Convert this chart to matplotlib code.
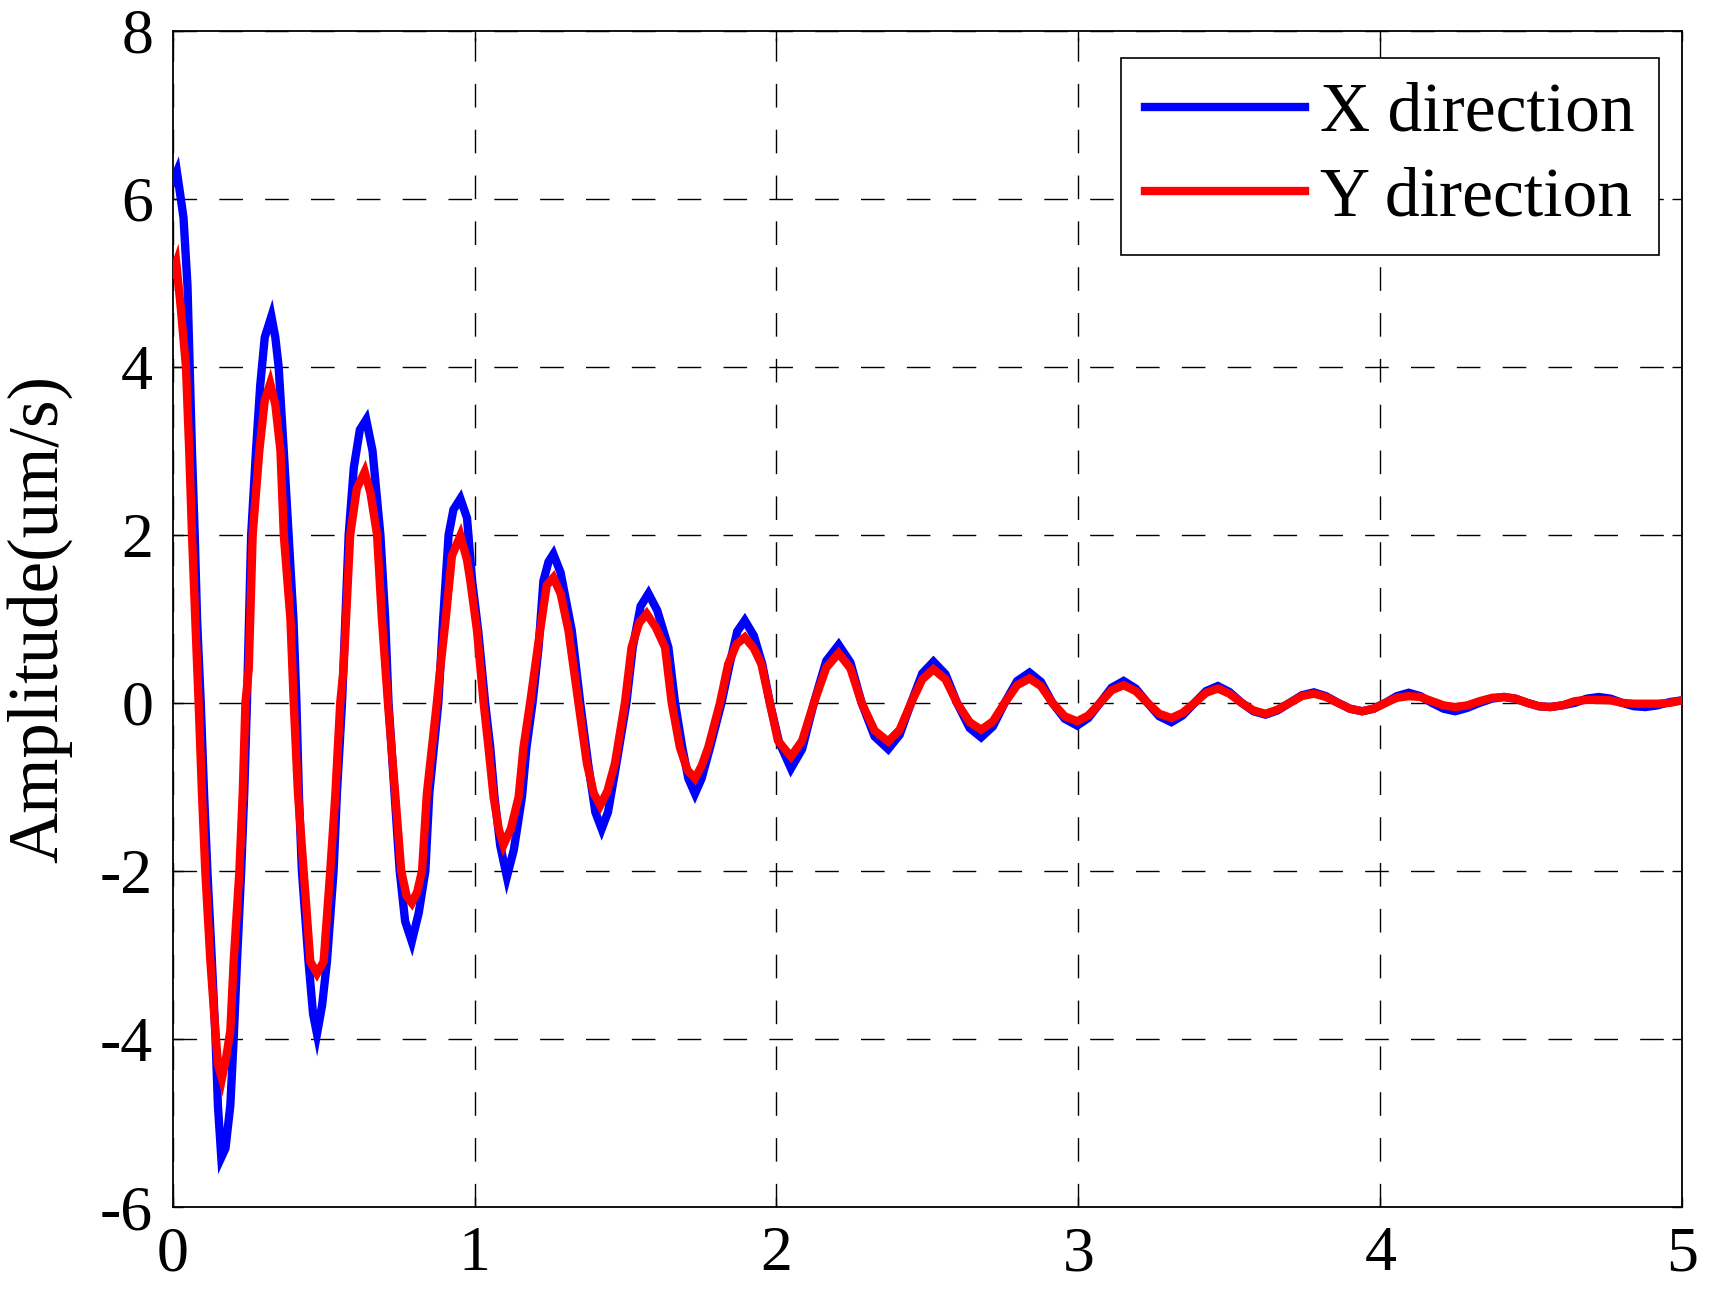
import matplotlib
matplotlib.use("Agg")
import matplotlib.pyplot as plt

plt.rcParams['font.family'] = ['Liberation Serif', 'DejaVu Serif']
plt.rcParams['axes.unicode_minus'] = False

# X direction (blue): time [s], amplitude [um/s]
t_x = [0.000, 0.014, 0.025, 0.036, 0.049, 0.064, 0.073, 0.081, 0.093, 0.104,
       0.115, 0.130, 0.142, 0.150, 0.161, 0.175, 0.191, 0.202, 0.213, 0.227,
       0.237, 0.246, 0.253, 0.260, 0.276, 0.290, 0.305, 0.327, 0.340, 0.351,
       0.368, 0.384, 0.400, 0.410, 0.418, 0.428, 0.450, 0.465, 0.478, 0.495,
       0.511, 0.533, 0.544, 0.561, 0.572, 0.583, 0.600, 0.620, 0.641, 0.662,
       0.688, 0.704, 0.715, 0.735, 0.752, 0.770, 0.792, 0.815, 0.837, 0.850,
       0.880, 0.896, 0.914, 0.930, 0.953, 0.975, 0.992, 1.012, 1.035, 1.052,
       1.066, 1.085, 1.107, 1.130, 1.157, 1.172, 1.192, 1.212, 1.228, 1.245,
       1.261, 1.285, 1.322, 1.350, 1.376, 1.400, 1.421, 1.442, 1.470, 1.503,
       1.524, 1.550, 1.576, 1.605, 1.642, 1.664, 1.688, 1.708, 1.730, 1.752,
       1.780, 1.818, 1.845, 1.870, 1.895, 1.925, 1.953, 1.978, 2.008, 2.048,
       2.085, 2.124, 2.165, 2.206, 2.245, 2.282, 2.325, 2.370, 2.408, 2.446,
       2.483, 2.520, 2.560, 2.598, 2.640, 2.678, 2.717, 2.756, 2.797, 2.838,
       2.876, 2.914, 2.955, 2.996, 3.033, 3.072, 3.110, 3.150, 3.190, 3.229,
       3.268, 3.308, 3.345, 3.385, 3.423, 3.462, 3.500, 3.541, 3.580, 3.620,
       3.660, 3.700, 3.740, 3.780, 3.820, 3.860, 3.900, 3.940, 3.978, 4.017,
       4.055, 4.094, 4.133, 4.171, 4.210, 4.248, 4.288, 4.329, 4.370, 4.410,
       4.448, 4.487, 4.525, 4.563, 4.603, 4.644, 4.684, 4.724, 4.763, 4.801,
       4.840, 4.878, 4.918, 4.960, 5.000]
amp_x = [6.20, 6.32, 6.05, 5.77, 4.97, 2.98, 2.00, 0.98, 0.00, -1.08,
         -2.00, -3.08, -4.00, -4.80, -5.41, -5.30, -4.79, -4.00, -3.08, -2.00,
         -1.08, 0.00, 0.98, 2.00, 3.00, 3.78, 4.35, 4.60, 4.35, 4.00,
         3.00, 2.00, 1.00, 0.00, -1.08, -2.00, -3.08, -3.70, -3.94, -3.60,
         -3.08, -2.00, -1.08, 0.00, 1.00, 2.00, 2.80, 3.25, 3.37, 3.00,
         2.00, 1.00, 0.00, -1.08, -2.00, -2.60, -2.84, -2.50, -2.00, -1.08,
         0.00, 1.00, 2.00, 2.30, 2.43, 2.20, 1.45, 0.86, 0.00, -0.53,
         -1.12, -1.70, -2.07, -1.75, -1.12, -0.53, 0.00, 0.66, 1.45, 1.68,
         1.77, 1.55, 0.86, 0.00, -0.72, -1.30, -1.50, -1.30, -0.72, 0.00,
         0.66, 1.15, 1.30, 1.10, 0.66, 0.00, -0.53, -0.90, -1.08, -0.90,
         -0.53, 0.00, 0.46, 0.85, 0.98, 0.80, 0.46, 0.00, -0.46, -0.78,
         -0.55, 0.00, 0.50, 0.69, 0.48, 0.00, -0.40, -0.55, -0.38, 0.00,
         0.35, 0.49, 0.34, 0.00, -0.30, -0.41, -0.28, 0.00, 0.26, 0.36,
         0.25, 0.00, -0.19, -0.27, -0.18, 0.00, 0.18, 0.26, 0.17, 0.00,
         -0.16, -0.23, -0.15, 0.00, 0.14, 0.20, 0.13, 0.00, -0.10, -0.14,
         -0.09, 0.00, 0.09, 0.125, 0.08, 0.00, -0.07, -0.10, -0.07, 0.00,
         0.08, 0.12, 0.08, 0.00, -0.07, -0.10, -0.06, 0.00, 0.05, 0.07,
         0.05, 0.00, -0.04, -0.05, -0.03, 0.00, 0.05, 0.07, 0.05, 0.00,
         -0.04, -0.05, -0.03, 0.01, 0.03]

# Y direction (red)
t_y = [0.000, 0.012, 0.025, 0.044, 0.055, 0.064, 0.075, 0.086, 0.097, 0.108,
       0.125, 0.141, 0.150, 0.163, 0.178, 0.191, 0.202, 0.221, 0.232, 0.241,
       0.252, 0.265, 0.287, 0.305, 0.323, 0.340, 0.357, 0.368, 0.390, 0.401,
       0.415, 0.434, 0.456, 0.478, 0.500, 0.522, 0.539, 0.555, 0.566, 0.588,
       0.610, 0.636, 0.655, 0.677, 0.693, 0.713, 0.737, 0.757, 0.775, 0.792,
       0.810, 0.826, 0.842, 0.875, 0.886, 0.903, 0.925, 0.953, 0.975, 0.986,
       1.008, 1.030, 1.046, 1.063, 1.080, 1.096, 1.120, 1.146, 1.162, 1.184,
       1.217, 1.239, 1.261, 1.285, 1.311, 1.344, 1.372, 1.395, 1.416, 1.440,
       1.465, 1.498, 1.520, 1.545, 1.570, 1.600, 1.631, 1.653, 1.680, 1.705,
       1.730, 1.752, 1.774, 1.813, 1.840, 1.868, 1.895, 1.925, 1.950, 1.978,
       2.005, 2.048, 2.085, 2.124, 2.165, 2.206, 2.245, 2.282, 2.325, 2.370,
       2.408, 2.446, 2.483, 2.520, 2.560, 2.598, 2.640, 2.678, 2.717, 2.756,
       2.797, 2.838, 2.876, 2.914, 2.955, 2.996, 3.033, 3.072, 3.110, 3.150,
       3.190, 3.229, 3.268, 3.308, 3.345, 3.385, 3.423, 3.462, 3.500, 3.541,
       3.580, 3.620, 3.660, 3.700, 3.740, 3.780, 3.820, 3.860, 3.900, 3.940,
       3.978, 4.017, 4.055, 4.094, 4.133, 4.171, 4.210, 4.248, 4.288, 4.329,
       4.370, 4.410, 4.448, 4.487, 4.525, 4.563, 4.603, 4.644, 4.684, 4.724,
       4.763, 4.801, 4.840, 4.878, 4.918, 4.960, 5.000]
amp_y = [5.10, 5.23, 4.77, 4.00, 2.98, 2.00, 0.98, 0.00, -1.08, -2.00,
         -3.08, -3.88, -4.30, -4.47, -4.20, -3.90, -3.08, -2.00, -1.08, 0.00,
         0.40, 2.00, 3.00, 3.60, 3.80, 3.55, 3.00, 2.00, 1.00, 0.00,
         -1.08, -2.00, -3.08, -3.22, -3.08, -2.00, -1.08, 0.00, 0.40, 2.00,
         2.55, 2.75, 2.50, 2.00, 1.00, 0.00, -1.08, -2.00, -2.30, -2.38,
         -2.25, -2.00, -1.08, 0.00, 0.40, 0.95, 1.75, 1.99, 1.70, 1.45,
         0.86, 0.00, -0.53, -1.12, -1.50, -1.69, -1.50, -1.12, -0.53, 0.00,
         0.86, 1.40, 1.49, 1.30, 0.86, 0.00, -0.72, -1.08, -1.22, -1.05,
         -0.72, 0.00, 0.66, 0.95, 1.06, 0.90, 0.66, 0.00, -0.53, -0.80,
         -0.90, -0.75, -0.53, 0.00, 0.46, 0.70, 0.78, 0.65, 0.46, 0.00,
         -0.45, -0.64, -0.45, 0.00, 0.42, 0.59, 0.41, 0.00, -0.33, -0.46,
         -0.32, 0.00, 0.28, 0.40, 0.28, 0.00, -0.23, -0.32, -0.22, 0.00,
         0.21, 0.29, 0.20, 0.00, -0.16, -0.22, -0.15, 0.00, 0.15, 0.21,
         0.14, 0.00, -0.13, -0.18, -0.12, 0.00, 0.12, 0.17, 0.11, 0.00,
         -0.09, -0.13, -0.08, 0.00, 0.08, 0.11, 0.07, 0.00, -0.07, -0.10,
         -0.07, 0.00, 0.06, 0.08, 0.07, 0.02, -0.03, -0.05, -0.03, 0.02,
         0.06, 0.07, 0.05, 0.00, -0.04, -0.05, -0.03, 0.02, 0.035, 0.035,
         0.03, 0.00, -0.01, -0.01, -0.01, 0.00, 0.03]

series_labels = ['X direction', 'Y direction']
x_ticks = [0, 1, 2, 3, 4, 5]
y_ticks = [-6, -4, -2, 0, 2, 4, 6, 8]

W, H = 1713, 1293
fig = plt.figure(figsize=(W / 100, H / 100), dpi=100)
ax = fig.add_axes([0.1008, 0.0665, 0.8812, 0.9098])

ax.plot(t_x, amp_x, color='#0000FF', lw=6.0, label=series_labels[0],
        solid_joinstyle='miter', zorder=3)
ax.plot(t_y, amp_y, color='#FF0000', lw=6.0, label=series_labels[1],
        solid_joinstyle='miter', zorder=4)

ax.set_xlim(0, 5)
ax.set_ylim(-6, 8)
ax.set_xticks(x_ticks)
ax.set_yticks(y_ticks)
ax.set_xticklabels([str(v) for v in x_ticks])
ax.set_yticklabels([str(v) for v in y_ticks])

ax.grid(True, color='black', lw=1.0, linestyle=(0, (17, 16)))
ax.set_axisbelow(True)
ax.tick_params(direction='in', length=7, width=1.0, top=True, right=True,
               labelsize=46, colors='black')
ax.tick_params(axis='x', pad=14)
ax.tick_params(axis='y', pad=14)
for s in ax.spines.values():
    s.set_linewidth(1.3)
    s.set_color('black')

ax.set_ylabel('Amplitude(um/s)', fontsize=51, labelpad=20)

leg = ax.legend(loc='upper right', fontsize=50, frameon=True, fancybox=False,
                shadow=False, framealpha=1, edgecolor='black',
                handlelength=2.3, handletextpad=0.22, borderpad=0.35,
                labelspacing=0.3, borderaxespad=0,
                bbox_to_anchor=(1659 / W, 1 - 58 / H),
                bbox_transform=fig.transFigure)
leg.get_frame().set_linewidth(1.2)
for line in leg.get_lines():
    line.set_linewidth(6.0)

fig.savefig('out.png', dpi=100)
